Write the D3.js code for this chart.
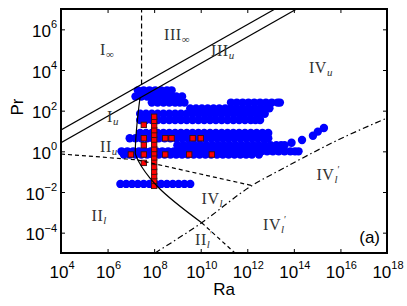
<!DOCTYPE html>
<html>
<head>
<meta charset="utf-8">
<script src="https://cdn.jsdelivr.net/npm/d3@7"></script>
<style>
  body { margin: 0; background: #fff; }
  svg { display: block; }
</style>
</head>
<body>
<svg id="chart" width="407" height="306"></svg>
<script>
// ---- data ----
const raTickExps = [4, 6, 8, 10, 12, 14, 16, 18];
const prTickExps = [-4, -2, 0, 2, 4, 6];

// blue circles: one Pr value per row, log10(Ra) positions along it
const blueRowPr = [1000, 500, 250, 250, 130, 70, 35, 8, 4.4, 2, 1, 0.7, 0.025];
const blueRowLogRa = [
  [7.3, 7.55, 7.8, 8.05, 8.3, 8.55, 8.75],
  [7.2, 7.45, 7.7, 7.95, 8.2, 8.45, 8.7, 8.95, 9.2],
  [7.9, 8.15, 8.4, 8.65, 8.9, 9.1, 9.3],
  [11.3, 11.55, 11.8, 12.05, 12.3, 12.55, 12.8, 13.05, 13.3, 13.4],
  [9.55, 9.8, 10.05, 10.3, 10.55, 10.8, 11.05, 11.3, 11.55, 11.8, 12.05, 12.3, 12.55, 12.8, 12.95],
  [7.4, 7.65, 7.9, 8.15, 8.4, 8.65, 8.9, 9.15, 9.4, 9.65, 9.9, 10.15, 10.4, 10.65, 10.9, 11.15, 11.4, 11.65, 11.9, 12.15, 12.4, 12.6, 12.75],
  [7.4, 7.65, 7.9, 8.15, 8.4, 8.65, 8.9, 9.15, 9.4, 9.65, 9.9, 10.15, 10.4, 10.65, 10.9, 11.15, 11.4, 11.65, 11.9, 12.15, 12.35, 12.55],
  [7.4, 7.65, 7.9, 8.15, 8.4, 8.65, 8.9, 9.15, 9.4, 9.65, 9.9, 10.15, 10.4, 10.65, 10.9, 11.15, 11.4, 11.65, 11.9, 12.15, 12.4, 12.65, 12.9],
  [6.95, 7.2, 7.45, 7.7, 7.95, 8.2, 8.45, 8.7, 8.95, 9.2, 9.45, 9.7, 9.95, 10.2, 10.45, 10.7, 10.95, 11.2, 11.45, 11.7, 11.95, 12.2, 12.45, 12.7, 12.9],
  [9.0, 9.25, 9.5, 9.75, 10.0, 10.25, 10.5, 10.75, 11.0, 11.25, 11.5, 11.75, 12.0, 12.25, 12.5, 12.75, 13.0, 13.25, 13.45, 13.6],
  [6.6, 6.85, 7.1, 7.35, 7.6, 7.85, 8.1, 8.35, 8.6, 8.85, 9.1, 9.35, 9.6, 9.85, 10.1, 10.35, 10.6, 10.85, 11.1, 11.35, 11.6, 11.85, 12.1, 12.35, 12.6, 12.85, 13.1, 13.35, 13.6, 13.85, 14.05, 14.2],
  [6.7, 6.95, 7.2, 7.45, 7.7, 7.95, 8.2, 8.45, 8.7, 8.95, 9.2, 9.45, 9.7, 9.95, 10.2, 10.45, 10.7, 10.95, 11.2, 11.45, 11.7, 11.95, 12.2, 12.5],
  [6.55, 6.8, 7.05, 7.3, 7.55, 7.8, 8.05, 8.3, 8.55, 8.8, 9.05, 9.3, 9.55]
];
// blue circles trailing up to the right
const tailLogRa = [13.9, 14.35, 14.82, 15.03, 15.29];
const tailLogPr = [0.42, 0.56, 0.77, 0.97, 1.15];

// red squares
const columnRa = 1e8;
const columnPr = [0.02, 0.035, 0.06, 0.1, 0.17, 0.3, 0.5, 0.8, 1.3, 2.2, 3.8, 6.5, 11, 19, 32, 50];
const squareRa = [1e7, 3.6e7, 3.6e7, 3.6e7, 3.6e7, 3.6e7, 3e8, 5.6e8, 4.5e9, 1e10, 3e8, 3.2e9, 3e10];
const squarePr = [0.7, 20, 4.4, 2, 0.7, 0.27, 4.4, 4.4, 4.4, 4.4, 0.7, 0.7, 0.7];

// regime boundaries, [log10 Ra, log10 Pr]
const upperSolid = [[4, 1.05], [13.19, 7]];
const lowerSolid = [[4, 0.42], [14.12, 7]];
const verticalDashed = [[7.46, 3.29], [7.46, 7]];
const bentSolid = [[7.392, 2.637], [7.19, -0.083], [7.263, -0.329], [7.465, -0.757], [7.821, -1.313], [8.165, -1.755], [10.041, -3.511]];
const leftDashed = [[4, -0.13], [6.82, -0.378], [7.26, -0.42], [12.19, -1.68]];
const lowDashed = [[10.041, -3.511], [11.471, -5.002]];
const dashDot = [[8.036, -5.002], [10.041, -3.511], [12.188, -1.692], [13.532, -0.846], [15.893, 0.556], [18, 1.638]];

// regime names and where they sit, [log10 Ra, log10 Pr]
const regionMain = ["I", "III", "III", "IV", "I", "II", "II", "IV", "IV", "IV", "II"];
const regionSub = ["∞", "∞", "u", "u", "u", "u", "l", "l", "l", "l", "l"];
const regionPrime = [false, false, false, false, false, false, false, false, true, true, true];
const regionAt = [[5.675, 4.737], [8.422, 5.451], [10.44, 4.664], [14.648, 3.852], [5.975, 1.466],
  [5.675, -0.009], [5.31, -3.403], [10.033, -2.592], [14.97, -1.411], [12.673, -3.871], [9.753, -4.609]];

// ---- layout ----
const svg = d3.select("#chart");
const margin = { left: 61, right: 20, top: 9, bottom: 53 };
const W = 407, H = 306;

const x = d3.scaleLog().domain([1e4, 1e18]).range([margin.left, W - margin.right]);
const y = d3.scaleLog().domain([1e-5, 1e7]).range([H - margin.bottom, margin.top]);

svg.append("defs").append("clipPath").attr("id", "plot-clip")
  .append("rect")
  .attr("x", x.range()[0]).attr("y", y.range()[1])
  .attr("width", x.range()[1] - x.range()[0])
  .attr("height", y.range()[0] - y.range()[1]);

const plot = svg.append("g").attr("clip-path", "url(#plot-clip)");

// data marks
const blueDots = [];
blueRowPr.forEach((pr, i) => blueRowLogRa[i].forEach(e => blueDots.push([Math.pow(10, e), pr])));
tailLogRa.forEach((e, i) => blueDots.push([Math.pow(10, e), Math.pow(10, tailLogPr[i])]));

plot.append("g").selectAll("circle")
  .data(blueDots)
  .join("circle")
  .attr("cx", d => x(d[0]))
  .attr("cy", d => y(d[1]))
  .attr("r", 4.2)
  .attr("fill", "#0000ff");

const redSquares = columnPr.map(p => [columnRa, p])
  .concat(squareRa.map((r, i) => [r, squarePr[i]]));
const sq = 5.4;
plot.append("g").selectAll("rect")
  .data(redSquares)
  .join("rect")
  .attr("x", d => x(d[0]) - sq / 2)
  .attr("y", d => y(d[1]) - sq / 2)
  .attr("width", sq)
  .attr("height", sq)
  .attr("fill", "#ff0000")
  .attr("stroke", "#3a1010")
  .attr("stroke-width", 0.9);

// boundaries
const line = d3.line().x(d => x(Math.pow(10, d[0]))).y(d => y(Math.pow(10, d[1])));
const smooth = d3.line().x(d => x(Math.pow(10, d[0]))).y(d => y(Math.pow(10, d[1]))).curve(d3.curveMonotoneY);
const smoothX = d3.line().x(d => x(Math.pow(10, d[0]))).y(d => y(Math.pow(10, d[1]))).curve(d3.curveMonotoneX);

function boundary(pts, gen, dash) {
  plot.append("path")
    .attr("d", gen(pts))
    .attr("fill", "none")
    .attr("stroke", "#000")
    .attr("stroke-width", 1.2)
    .attr("stroke-dasharray", dash);
}
boundary(upperSolid, line, null);
boundary(lowerSolid, line, null);
boundary(verticalDashed, line, "5,3");
boundary(bentSolid, smooth, null);
boundary(leftDashed, line, "4,3");
boundary(lowDashed, line, "4,3");
boundary(dashDot, smoothX, "6,3,1.5,3");

// region names
const labelG = svg.append("g")
  .attr("font-family", "'Liberation Serif', 'Times New Roman', serif")
  .attr("fill", "#333");
regionMain.forEach((m, i) => {
  const t = labelG.append("text")
    .attr("x", x(Math.pow(10, regionAt[i][0])))
    .attr("y", y(Math.pow(10, regionAt[i][1])))
    .attr("font-size", 16)
    .attr("letter-spacing", 0.6);
  t.append("tspan").text(m);
  t.append("tspan")
    .attr("font-size", 11)
    .attr("font-style", regionSub[i] === "∞" ? "normal" : "italic")
    .attr("dy", 3)
    .attr("letter-spacing", 0)
    .text(regionSub[i]);
  if (regionPrime[i]) {
    t.append("tspan")
      .attr("font-size", 10)
      .attr("dx", 0)
      .attr("dy", -10)
      .text("′");
  }
});

// axes: inner ticks on all four sides
const xTicks = raTickExps.map(e => Math.pow(10, e));
const yTicks = prTickExps.map(e => Math.pow(10, e));
const x0 = x.range()[0], x1 = x.range()[1], yB = y.range()[0], yT = y.range()[1];

svg.append("g").attr("transform", `translate(0,${yB})`)
  .call(d3.axisBottom(x).tickValues(xTicks).tickSize(-4).tickFormat(""));
svg.append("g").attr("transform", `translate(0,${yT})`)
  .call(d3.axisTop(x).tickValues(xTicks).tickSize(-4).tickFormat(""));
svg.append("g").attr("transform", `translate(${x0},0)`)
  .call(d3.axisLeft(y).tickValues(yTicks).tickSize(-4).tickFormat(""));
svg.append("g").attr("transform", `translate(${x1},0)`)
  .call(d3.axisRight(y).tickValues(yTicks).tickSize(-4).tickFormat(""));
svg.selectAll(".domain").remove();
svg.selectAll(".tick line").attr("stroke", "#000").attr("stroke-width", 1);

svg.append("rect")
  .attr("x", x0).attr("y", yT)
  .attr("width", x1 - x0).attr("height", yB - yT)
  .attr("fill", "none").attr("stroke", "#000").attr("stroke-width", 2);

const sans = "'Liberation Sans', Arial, Helvetica, sans-serif";
const fmtExp = e => (e < 0 ? "\u2212" + Math.abs(e) : String(e));

svg.append("g").selectAll("text")
  .data(raTickExps)
  .join("text")
  .attr("x", e => x(Math.pow(10, e)) + 1)
  .attr("y", yB + 25)
  .attr("text-anchor", "middle")
  .attr("font-family", sans)
  .attr("font-size", 17)
  .each(function (e) {
    const t = d3.select(this);
    t.append("tspan").text("10");
    t.append("tspan").attr("font-size", 11).attr("dy", -9).text(fmtExp(e));
  });

svg.append("g").selectAll("text")
  .data(prTickExps)
  .join("text")
  .attr("x", x0 - 4)
  .attr("y", e => y(Math.pow(10, e)) + 7.5)
  .attr("text-anchor", "end")
  .attr("font-family", sans)
  .attr("font-size", 17)
  .each(function (e) {
    const t = d3.select(this);
    t.append("tspan").text("10");
    t.append("tspan").attr("font-size", 11).attr("dy", -8.5).text(fmtExp(e));
  });

// axis titles
svg.append("text")
  .attr("x", (x0 + x1) / 2)
  .attr("y", 295)
  .attr("text-anchor", "middle")
  .attr("font-family", sans)
  .attr("font-size", 17)
  .text("Ra");

svg.append("text")
  .attr("transform", `translate(23,${(yT + yB) / 2 - 24}) rotate(-90)`)
  .attr("text-anchor", "middle")
  .attr("font-family", sans)
  .attr("font-size", 17)
  .text("Pr");

svg.append("text")
  .attr("x", x1 - 7)
  .attr("y", yB - 10)
  .attr("text-anchor", "end")
  .attr("font-family", sans)
  .attr("font-size", 17)
  .text("(a)");
</script>
</body>
</html>
